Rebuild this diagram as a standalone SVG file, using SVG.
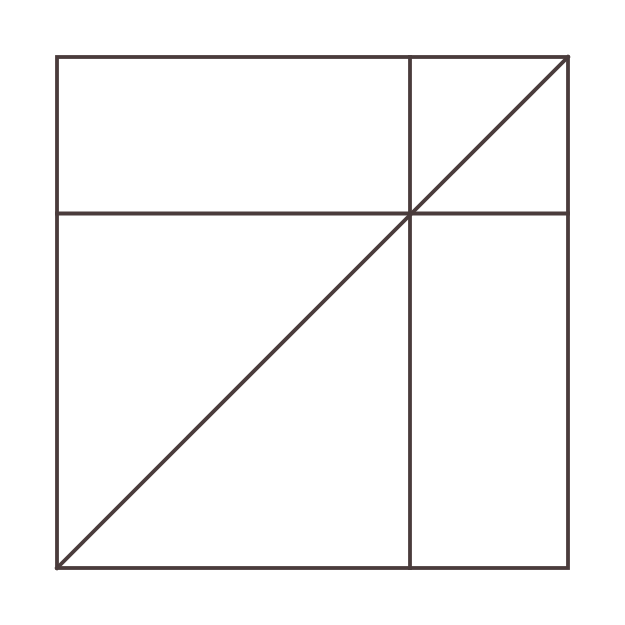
<svg xmlns="http://www.w3.org/2000/svg" width="625" height="625" viewBox="0 0 625 625">
<style>.l{stroke:#4a3c3c;stroke-width:3.8;fill:none;stroke-linecap:square}</style>
<rect width="625" height="625" fill="#ffffff"/>
<g id="connectors">
<rect class="l" x="57" y="57" width="511" height="511"/>
<line class="l" x1="410" y1="57" x2="410" y2="568"/>
<line class="l" x1="57" y1="213.5" x2="568" y2="213.5"/>
<line class="l" x1="57" y1="568" x2="568" y2="57"/>
</g>
</svg>
